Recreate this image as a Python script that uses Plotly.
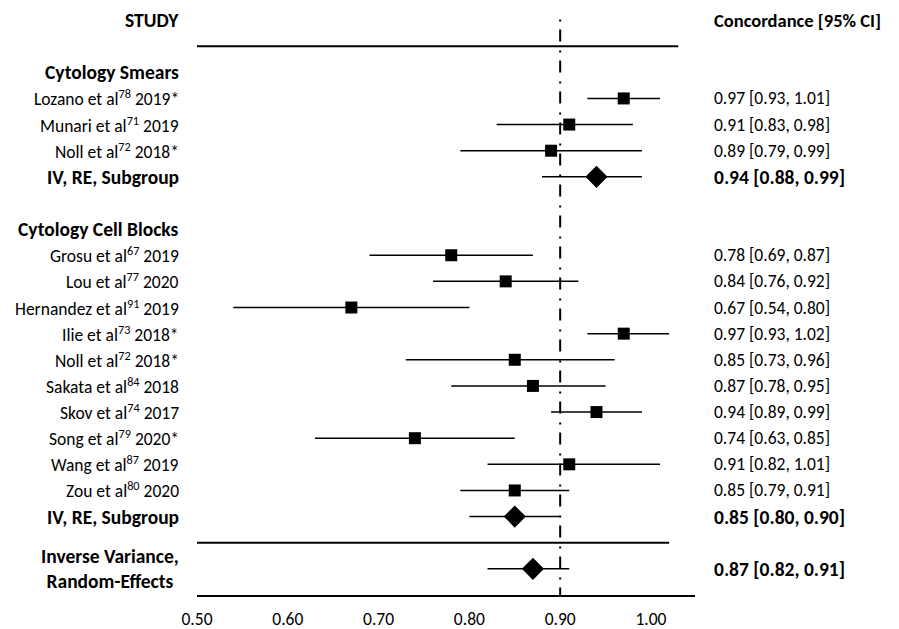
import plotly.graph_objects as go

# ---------------- data ----------------
smear_names = ["Lozano et al", "Munari et al", "Noll et al"]
smear_refs = ["78", "71", "72"]
smear_years = ["2019*", "2019", "2018*"]
smear_est = [0.97, 0.91, 0.89]
smear_lo = [0.93, 0.83, 0.79]
smear_hi = [1.01, 0.98, 0.99]
smear_pooled = [0.94, 0.88, 0.99]

cell_names = ["Grosu et al", "Lou et al", "Hernandez et al", "Ilie et al", "Noll et al",
              "Sakata et al", "Skov et al", "Song et al", "Wang et al", "Zou et al"]
cell_refs = ["67", "77", "91", "73", "72", "84", "74", "79", "87", "80"]
cell_years = ["2019", "2020", "2019", "2018*", "2018*", "2018", "2017", "2020*", "2019", "2020"]
cell_est = [0.78, 0.84, 0.67, 0.97, 0.85, 0.87, 0.94, 0.74, 0.91, 0.85]
cell_lo = [0.69, 0.76, 0.54, 0.93, 0.73, 0.78, 0.89, 0.63, 0.82, 0.79]
cell_hi = [0.87, 0.92, 0.80, 1.02, 0.96, 0.95, 0.99, 0.85, 1.01, 0.91]
cell_pooled = [0.85, 0.80, 0.90]

overall_pooled = [0.87, 0.82, 0.91]

group_titles = ["Cytology Smears", "Cytology Cell Blocks"]
subgroup_label = "IV, RE, Subgroup"
overall_label = "Inverse Variance,<br>Random-Effects"
header_left = "STUDY"
header_right = "Concordance [95% CI]"
null_value = 0.90
tick_vals = [0.50, 0.60, 0.70, 0.80, 0.90, 1.00]
tick_text = ["0.50", "0.60", "0.70", "0.80", "0.90", "1.00"]

# ---------------- layout ----------------
FONT = "Calibri, Carlito, Lato, sans-serif"
FS = 17.5
FS_BOLD = 19.5
FS_HEADER_RIGHT = 18.5
W, H = 899, 629
ML, MR, MT, MB = 197, 204, 0, 34
X0, X1 = 0.50, 1.0485
Y_TOP = -0.766
Y_BOT = 22

def px_to_paper(px):
    return (px - ML) / (W - ML - MR)

LEFT_X = px_to_paper(181)
RIGHT_X = px_to_paper(712)

study_rows, study_est, study_lo, study_hi = [], [], [], []
pooled_rows, pooled_est, pooled_lo, pooled_hi = [], [], [], []
annotations = []

def add_text(x, y, text, bold=False, anchor="right", align="right", size=None):
    if size is None:
        size = FS_BOLD if bold else FS
    annotations.append(dict(
        x=x, y=y, xref="paper", yref="y", text=f"<b>{text}</b>" if bold else text,
        showarrow=False, xanchor=anchor, yanchor="middle", align=align,
        font=dict(family=FONT, size=size, color="black")))

def fmt(e, lo, hi):
    return f"{e:.2f} [{lo:.2f}, {hi:.2f}]"

add_text(LEFT_X, 0, header_left, bold=True)
add_text(RIGHT_X, 0, header_right, bold=True, anchor="left", align="left", size=FS_HEADER_RIGHT)

row = 2
groups = [
    (group_titles[0], smear_names, smear_refs, smear_years, smear_est, smear_lo, smear_hi, smear_pooled),
    (group_titles[1], cell_names, cell_refs, cell_years, cell_est, cell_lo, cell_hi, cell_pooled),
]
for title, names, refs, years, est, lo, hi, pooled in groups:
    add_text(LEFT_X, row, title, bold=True)
    row += 1
    for n, r, yr, e, l, h in zip(names, refs, years, est, lo, hi):
        add_text(LEFT_X, row, f"{n}<sup>{r}</sup> {yr}")
        add_text(RIGHT_X, row, fmt(e, l, h), anchor="left", align="left")
        study_rows.append(row); study_est.append(e); study_lo.append(l); study_hi.append(h)
        row += 1
    add_text(LEFT_X, row, subgroup_label, bold=True)
    add_text(RIGHT_X, row, fmt(*pooled), bold=True, anchor="left", align="left")
    pooled_rows.append(row); pooled_est.append(pooled[0]); pooled_lo.append(pooled[1]); pooled_hi.append(pooled[2])
    row += 2

overall_row = row
sep_row = overall_row - 1
add_text(LEFT_X, overall_row, overall_label, bold=True, align="center")
add_text(RIGHT_X, overall_row, fmt(*overall_pooled), bold=True, anchor="left", align="left")
pooled_rows.append(overall_row); pooled_est.append(overall_pooled[0])
pooled_lo.append(overall_pooled[1]); pooled_hi.append(overall_pooled[2])

fig = go.Figure()
fig.add_trace(go.Scatter(
    x=study_est, y=study_rows, mode="markers",
    marker=dict(symbol="square", size=12, color="black"),
    error_x=dict(type="data", symmetric=False,
                 array=[h - e for e, h in zip(study_est, study_hi)],
                 arrayminus=[e - l for e, l in zip(study_est, study_lo)],
                 thickness=1.5, width=0, color="black"),
    cliponaxis=False, showlegend=False, hoverinfo="skip"))
fig.add_trace(go.Scatter(
    x=pooled_est, y=pooled_rows, mode="markers",
    marker=dict(symbol="diamond", size=17, color="black"),
    error_x=dict(type="data", symmetric=False,
                 array=[h - e for e, h in zip(pooled_est, pooled_hi)],
                 arrayminus=[e - l for e, l in zip(pooled_est, pooled_lo)],
                 thickness=1.5, width=0, color="black"),
    cliponaxis=False, showlegend=False, hoverinfo="skip"))

shapes = [
    dict(type="line", xref="x", yref="y", x0=0.50, x1=1.03, y0=1, y1=1,
         line=dict(color="black", width=2)),
    dict(type="line", xref="x", yref="y", x0=0.50, x1=1.02, y0=sep_row, y1=sep_row,
         line=dict(color="black", width=2)),
    dict(type="line", xref="x", yref="y", x0=null_value, x1=null_value, y0=-0.02, y1=Y_BOT,
         line=dict(color="black", width=2, dash="2px,8px,12px,9px")),
]

fig.update_layout(
    width=W, height=H, margin=dict(l=ML, r=MR, t=MT, b=MB),
    paper_bgcolor="white", plot_bgcolor="white",
    shapes=shapes, annotations=annotations,
    xaxis=dict(range=[X0, X1], showgrid=False, zeroline=False, showline=True,
               linecolor="black", linewidth=2, tickvals=tick_vals, ticktext=tick_text,
               ticks="outside", ticklen=7, tickcolor="rgba(0,0,0,0)",
               tickfont=dict(family=FONT, size=FS, color="black")),
    yaxis=dict(range=[Y_BOT, Y_TOP], visible=False, showgrid=False, zeroline=False),
)

fig.write_html("out.html", config={"displayModeBar": False},
               post_script="document.body.style.margin='0';document.body.style.padding='0';")
